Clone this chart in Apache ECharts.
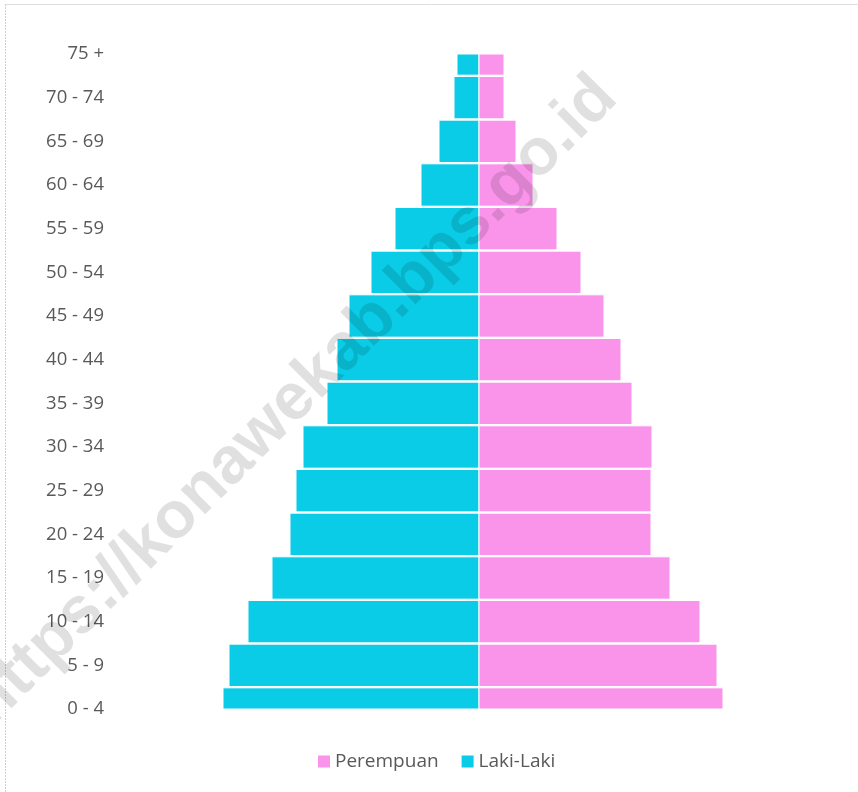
<!DOCTYPE html>
<html>
<head>
<meta charset="utf-8">
<script src="https://cdn.jsdelivr.net/npm/echarts@6/dist/echarts.min.js"></script>
<style>
  html, body { margin: 0; padding: 0; background: #fff; }
  #chart { width: 858px; height: 792px; }
</style>
</head>
<body>
<div id="chart"></div>
<script>
// kelompok umur, dari bawah ke atas
const ageGroups = ['0 - 4', '5 - 9', '10 - 14', '15 - 19', '20 - 24', '25 - 29', '30 - 34', '35 - 39',
  '40 - 44', '45 - 49', '50 - 54', '55 - 59', '60 - 64', '65 - 69', '70 - 74', '75 +'];

// jumlah penduduk (perkiraan dari gambar)
const lakiLaki = [12800, 12500, 11550, 10350, 9450, 9150, 8800, 7600,
  7100, 6500, 5400, 4200, 2900, 2000, 1250, 1100];
const perempuan = [12200, 11900, 11050, 9550, 8600, 8600, 8650, 7650,
  7100, 6250, 5100, 3900, 2700, 1850, 1250, 1250];

const chart = echarts.init(document.getElementById('chart'));

// batang piramida, dipotong pada tepi area plot (batang paling atas & bawah setengah)
function renderBar(params, api) {
  const idx = api.value(0);
  const val = api.value(1);
  const p0 = api.coord([0, idx]);
  const p1 = api.coord([val, idx]);
  const h = api.size([0, 1])[1] * 0.97;
  const rect = echarts.graphic.clipRectByRect({
    x: Math.min(p0[0], p1[0]),
    y: p0[1] - h / 2,
    width: Math.abs(p1[0] - p0[0]),
    height: h
  }, {
    x: params.coordSys.x,
    y: params.coordSys.y,
    width: params.coordSys.width,
    height: params.coordSys.height
  });
  if (!rect) return;
  return {
    type: 'rect',
    shape: rect,
    style: api.style({ stroke: '#ffffff', lineWidth: 1 })
  };
}

const option = {
  animation: false,
  grid: { left: 199, right: 99, top: 54, bottom: 83 },
  legend: {
    data: ['Perempuan', 'Laki-Laki'],
    left: 318,
    top: 752,
    padding: 0,
    icon: 'rect',
    itemWidth: 12,
    itemHeight: 12,
    itemGap: 23,
    textStyle: { color: '#595959', fontSize: 19, fontFamily: 'Open Sans' }
  },
  xAxis: {
    type: 'value',
    min: -14000,
    max: 14000,
    show: false
  },
  yAxis: {
    type: 'category',
    data: ageGroups,
    boundaryGap: false,
    axisLine: { show: false },
    axisTick: { show: false },
    splitLine: { show: false },
    axisLabel: {
      margin: 95,
      color: '#595959',
      fontSize: 18.5,
      fontFamily: 'Open Sans',
      padding: [4, 0, 0, 0]
    }
  },
  series: [
    {
      name: 'Laki-Laki',
      type: 'custom',
      renderItem: renderBar,
      encode: { x: 1, y: 0 },
      data: lakiLaki.map((v, i) => [i, -v]),
      itemStyle: { color: '#0ACCE6' }
    },
    {
      name: 'Perempuan',
      type: 'custom',
      renderItem: renderBar,
      encode: { x: 1, y: 0 },
      data: perempuan.map((v, i) => [i, v]),
      itemStyle: { color: '#FA94EB' }
    }
  ],
  graphic: [
    // garis tepi
    {
      type: 'line', z: 50,
      shape: { x1: 5, y1: 4.5, x2: 858, y2: 4.5 },
      style: { stroke: '#dedede', lineWidth: 1 }
    },
    {
      type: 'line', z: 50,
      shape: { x1: 5.5, y1: 4, x2: 5.5, y2: 792 },
      style: { stroke: '#cfcfcf', lineWidth: 1, lineDash: [2, 1] }
    },
    // watermark
    {
      type: 'text', z: 100,
      x: 293, y: 401,
      rotation: Math.PI / 4,
      style: {
        text: 'https://konawekab.bps.go.id',
        fill: 'rgba(0,0,0,0.12)',
        font: 'bold 66px "Liberation Sans"',
        align: 'center',
        verticalAlign: 'middle'
      }
    }
  ]
};

chart.setOption(option);
</script>
</body>
</html>
